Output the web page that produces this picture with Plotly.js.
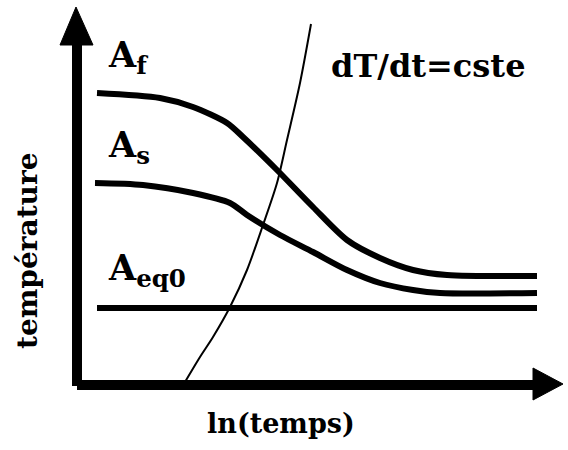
<!DOCTYPE html>
<html>
<head>
<meta charset="utf-8">
<script src="https://cdn.plot.ly/plotly-3.0.1.min.js"></script>
<style>
html,body{margin:0;padding:0;background:#fff;}
#chart{width:568px;height:450px;}
</style>
</head>
<body>
<div id="chart"></div>
<script>
// ln(temps) values (arbitrary units) and temperatures (arbitrary units)
const afX = [2.1, 8.4, 11.7, 15.1, 16.7, 20.1, 23.7, 27.1, 30.4, 33.7, 37.1, 46.1];
const afY = [29.1, 28.6, 27.7, 26.1, 24.7, 21.4, 17.7, 14.4, 12.6, 11.4, 10.9, 10.8];

const asX = [1.9, 6.7, 11.7, 15.4, 17.1, 20.4, 23.7, 27.1, 30.4, 33.7, 36.4, 46.1];
const asY = [20.1, 19.9, 19.1, 18.1, 16.9, 14.9, 13.2, 11.4, 10.1, 9.4, 9.1, 9.1];

const aeqX = [2.1, 46.1];
const aeqY = [7.6, 7.6];

const rateX = [10.9, 12.4, 13.7, 15.4, 17.1, 18.7, 20.1, 21.1, 22.4, 23.5];
const rateY = [0.2, 2.7, 4.7, 7.7, 11.4, 15.9, 20.1, 24.4, 30.1, 36.0];

// axes drawn as arrows
const yAxisX = [0.1, 0.1];
const yAxisY = [-0.2, 34.2];
const xAxisX = [0.1, 45.9];
const xAxisY = [-0.1, -0.1];
const yHeadX = [-1.6, 0.0, 1.7, -1.6];
const yHeadY = [33.9, 37.7, 33.9, 33.9];
const xHeadX = [45.7, 48.7, 45.7, 45.7];
const xHeadY = [1.6, 0.0, -1.6, 1.6];

const labels = ['A<sub>f</sub>', 'A<sub>s</sub>', 'A<sub>eq0</sub>', 'dT/dt=cste'];
const xTitle = 'ln(temps)';
const yTitle = 'température';

const FAMILY = 'DejaVu Serif';

const traces = [
  {x: afX, y: afY, mode: 'lines', line: {color: '#000', width: 6, shape: 'spline', smoothing: 0.8}},
  {x: asX, y: asY, mode: 'lines', line: {color: '#000', width: 6, shape: 'spline', smoothing: 0.8}},
  {x: aeqX, y: aeqY, mode: 'lines', line: {color: '#000', width: 6}},
  {x: rateX, y: rateY, mode: 'lines', line: {color: '#000', width: 2, shape: 'spline', smoothing: 0.8}},
  {x: yAxisX, y: yAxisY, mode: 'lines', line: {color: '#000', width: 10}},
  {x: xAxisX, y: xAxisY, mode: 'lines', line: {color: '#000', width: 10}},
  {x: yHeadX, y: yHeadY, mode: 'lines', fill: 'toself', fillcolor: '#000', line: {color: '#000', width: 1}},
  {x: xHeadX, y: xHeadY, mode: 'lines', fill: 'toself', fillcolor: '#000', line: {color: '#000', width: 1}}
];

function ann(text, x, y, size, xanchor, angle) {
  return {
    text: text, x: x, y: y, xref: 'x', yref: 'y', showarrow: false,
    xanchor: xanchor, yanchor: 'middle', textangle: angle,
    font: {family: FAMILY, size: size, weight: 'bold', color: '#000'}
  };
}

const layout = {
  width: 568, height: 450,
  margin: {l: 0, r: 0, t: 0, b: 0},
  showlegend: false,
  hovermode: false,
  font: {family: FAMILY, color: '#000'},
  xaxis: {range: [-7.6, 49.2], visible: false, fixedrange: true},
  yaxis: {range: [-6.6, 38.4], visible: false, fixedrange: true},
  annotations: [
    ann(labels[0], 3.0, 32.7, 35, 'left', 0),
    ann(labels[1], 3.0, 23.7, 35, 'left', 0),
    ann(labels[2], 3.0, 11.4, 35, 'left', 0),
    ann(labels[3], 25.3, 31.8, 32, 'left', 0),
    ann(xTitle, 20.45, -3.95, 27, 'center', 0),
    ann(yTitle, -4.9, 13.3, 28, 'center', -90)
  ]
};

Plotly.newPlot('chart', traces, layout, {displayModeBar: false});
</script>
</body>
</html>
